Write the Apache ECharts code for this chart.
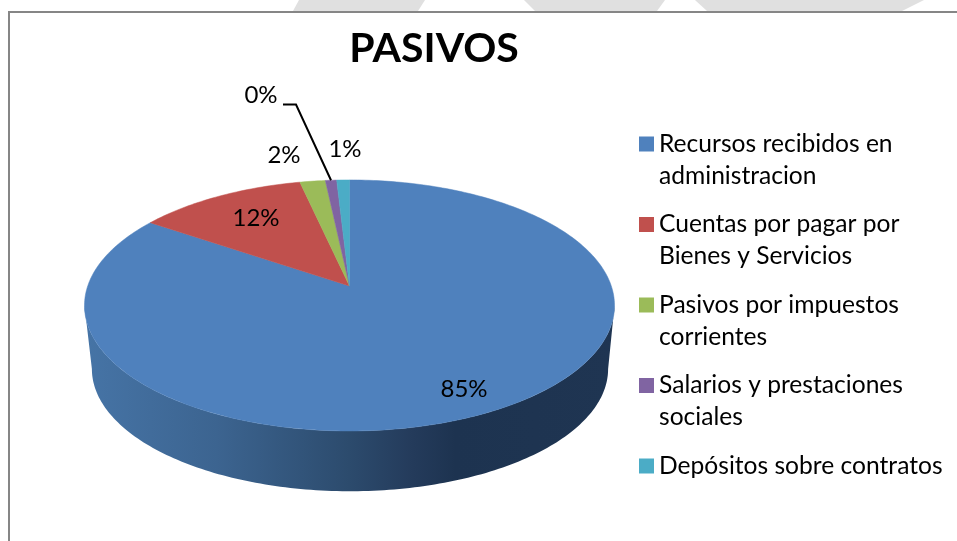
<!DOCTYPE html>
<html>
<head>
<meta charset="utf-8">
<title>PASIVOS</title>
<style>
html, body { margin: 0; padding: 0; background: #fff; }
#chart { width: 957px; height: 541px; }
</style>
<script src="https://cdn.jsdelivr.net/npm/echarts@6/dist/echarts.min.js"></script>
</head>
<body>
<div id="chart"></div>
<script>
// datos
var categories = [
    'Recursos recibidos en\nadministracion',
    'Cuentas por pagar por\nBienes y Servicios',
    'Pasivos por impuestos\ncorrientes',
    'Salarios y prestaciones\nsociales',
    'Depósitos sobre contratos'
];
var values = [84.5, 12.0, 1.8, 0.8, 0.9];
var percentLabels = ['85%', '12%', '2%', '0%', '1%'];
var colors = ['#4f81bd', '#c0504d', '#9bbb59', '#8064a2', '#4bacc6'];

// geometria del disco en perspectiva
var CX = 349.5, CY = 286, RX = 261.8, RY = 122.5, K = 0.155;
var WALL_SCALE = 0.974, WALL_CX = 350, WALL_CY = 350;
var FONT = 'Lato';
// centro de cada etiqueta, leader del 0%
var labelPos = [[464, 389], [256, 218], [284, 155], [261, 95], [345, 149]];
var leaderStart = [283, 104.5], leaderBend = [296, 104.5];

var RAD = Math.PI / 180;

// angulo en grados desde arriba, sentido horario
function project(deg) {
    var u = Math.sin(deg * RAD), v = -Math.cos(deg * RAD), d = 1 - K * v;
    return [CX + RX * u / d, CY + RY * v / d];
}

function lower(p) {
    return [WALL_CX + WALL_SCALE * (p[0] - CX), WALL_CY + WALL_SCALE * (p[1] - CY)];
}

function arc(from, to) {
    var pts = [], n = Math.max(2, Math.ceil(Math.abs(to - from))), i;
    for (i = 0; i <= n; i++) {
        pts.push(project(from + (to - from) * i / n));
    }
    return pts;
}

var wallFrom = Math.acos(-K) / RAD, wallTo = 360 - wallFrom;
var wallFill = new echarts.graphic.LinearGradient(0, 0, 1, 0, [
    {offset: 0, color: '#4674a6'},
    {offset: 0.25, color: '#3c6490'},
    {offset: 0.5, color: '#2c4b6d'},
    {offset: 0.62, color: '#243b5b'},
    {offset: 0.7, color: '#1d3350'},
    {offset: 1, color: '#1f3552'}
]);

function makeRenderItem(index) {
    return function (params, api) {
        var start = api.value(0), end = api.value(1),
            children = [],
            a = Math.max(start, wallFrom),
            b = Math.min(end, wallTo),
            top, pos;

        if (b > a) {
            top = arc(a, b);
            children.push({
                type: 'polygon',
                shape: {points: top.concat(top.map(lower).reverse())},
                style: {fill: wallFill}
            });
        }
        children.push({
            type: 'polygon',
            shape: {points: [[CX, CY]].concat(arc(start, end))},
            style: {fill: colors[index], stroke: colors[index], lineWidth: 0.5}
        });
        if (index === 3) {
            children.push({
                type: 'polyline',
                shape: {points: [leaderStart, leaderBend, project((start + end) / 2)]},
                style: {fill: null, stroke: '#000', lineWidth: 2}
            });
        }
        pos = labelPos[index];
        children.push({
            type: 'text',
            style: {
                text: percentLabels[index],
                x: pos[0], y: pos[1],
                align: 'center', verticalAlign: 'middle',
                fill: '#000', font: '24px ' + FONT
            }
        });
        return {type: 'group', children: children};
    };
}

var total = values.reduce(function (s, v) { return s + v; }, 0);
var running = 0;
var series = values.map(function (v, i) {
    var start = running / total * 360;
    running += v;
    return {
        type: 'custom',
        name: categories[i],
        coordinateSystem: 'none',
        silent: true,
        itemStyle: {color: colors[i]},
        data: [[start, running / total * 360]],
        renderItem: makeRenderItem(i)
    };
});

var chart = echarts.init(document.getElementById('chart'), null, {renderer: 'canvas'});
chart.setOption({
    animation: false,
    backgroundColor: '#fff',
    title: {
        text: 'PASIVOS',
        left: 429, top: 23,
        textAlign: 'center',
        textStyle: {fontFamily: FONT, fontSize: 41, fontWeight: 'bold', color: '#000'}
    },
    legend: {
        orient: 'vertical',
        left: 634, top: 91,
        icon: 'rect',
        itemWidth: 15, itemHeight: 15,
        itemGap: -15.5,
        selectedMode: false,
        data: categories,
        // linea en blanco para que el cuadro quede a la altura de la primera linea
        formatter: function (name) {
            return name.indexOf('\n') >= 0 ? '\n' + name : '\n' + name + '\n ';
        },
        textStyle: {fontFamily: FONT, fontSize: 24.6, lineHeight: 32, color: '#000', padding: [0, 0, 0, 0]}
    },
    series: series,
    graphic: [
        // marca de agua gris sobre el marco y marco del grafico
        {type: 'polygon', silent: true, shape: {points: [[299, 0], [425, 0], [418, 11], [293, 11]]}, style: {fill: '#e0e0e0'}},
        {type: 'polygon', silent: true, shape: {points: [[524, 0], [665, 0], [657, 11], [535, 11]]}, style: {fill: '#e0e0e0'}},
        {type: 'polygon', silent: true, shape: {points: [[695, 0], [924, 0], [902, 11], [707, 11]]}, style: {fill: '#e0e0e0'}},
        {type: 'polyline', silent: true, shape: {points: [[9, 541], [9, 12], [957, 12]]}, style: {fill: null, stroke: '#868686', lineWidth: 2}}
    ]
});
</script>
</body>
</html>
